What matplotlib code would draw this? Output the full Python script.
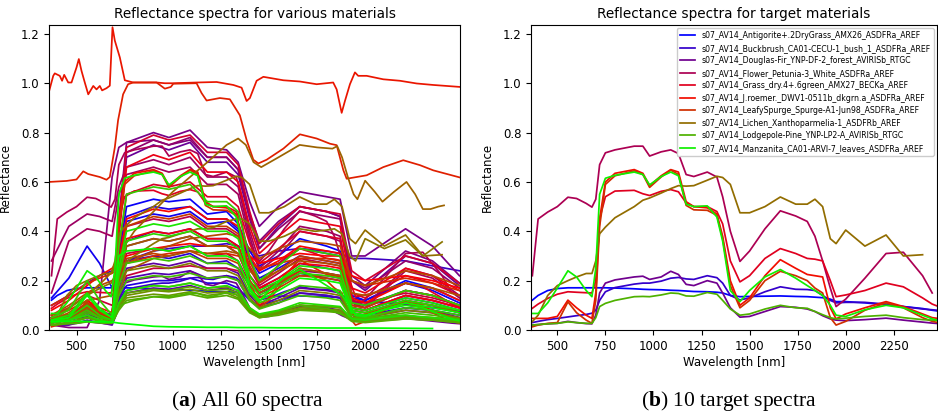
import numpy as np
import matplotlib
matplotlib.use("Agg")
import matplotlib.pyplot as plt

plt.rcParams['mathtext.fontset'] = 'custom'
plt.rcParams['mathtext.rm'] = 'Liberation Serif'
plt.rcParams['mathtext.bf'] = 'Liberation Serif:bold'

nan = np.nan

# ---------------- wavelength grids (nm) ----------------
GT = [370, 400, 450, 500, 555, 600, 650, 680, 700, 720, 750, 800, 900, 945, 980, 1040,
      1090, 1130, 1170, 1210, 1280, 1330, 1360, 1400, 1450, 1500, 1580, 1660, 1740, 1800,
      1840, 1880, 1920, 1950, 2000, 2100, 2210, 2300, 2400, 2450, 2500]
GC = [370, 460, 555, 620, 685, 720, 760, 900, 980, 1090, 1180, 1280, 1340, 1400, 1450,
      1550, 1660, 1800, 1870, 1930, 2000, 2210, 2350, 2490]

# ---------------- 10 target spectra (on GT) ----------------
TARGET_NAMES = [
    "s07_AV14_Antigorite+.2DryGrass_AMX26_ASDFRa_AREF",
    "s07_AV14_Buckbrush_CA01-CECU-1_bush_1_ASDFRa_AREF",
    "s07_AV14_Douglas-Fir_YNP-DF-2_forest_AVIRISb_RTGC",
    "s07_AV14_Flower_Petunia-3_White_ASDFRa_AREF",
    "s07_AV14_Grass_dry.4+.6green_AMX27_BECKa_AREF",
    "s07_AV14_J.roemer._DWV1-0511b_dkgrn.a_ASDFRa_AREF",
    "s07_AV14_LeafySpurge_Spurge-A1-Jun98_ASDFRa_AREF",
    "s07_AV14_Lichen_Xanthoparmelia-1_ASDFRb_AREF",
    "s07_AV14_Lodgepole-Pine_YNP-LP2-A_AVIRISb_RTGC",
    "s07_AV14_Manzanita_CA01-ARVI-7_leaves_ASDFRa_AREF",
]
ANTIGORITE = [.121, .14, .16, .168, .171, .171, .171, .171, .171, .171,
              .171, .17, .167, .165, .164, .163, .161, .16, .158, .156,
              .155, .153, .15, .14, .135, .136, .137, .138, .136, .135,
              .133, .131, .125, .115, .115, .11, .102, .095, .087, .08, .075]
BUCKBRUSH = [.03, .035, .042, .047, .053, .058, .063, .068, .08, .12,
             .155, .172, .186, .19, .19, .198, .21, .213, .207, .205,
             .22, .212, .19, .14, .122, .13, .155, .175, .165, .164,
             .16, .14, .12, .11, .112, .112, .105, .095, .085, .082, .078]
DOUGLAS_FIR = [.02, .022, .025, .027, .035, .03, .026, .025, .06, .15,
               .19, .203, .215, .218, .205, .215, .238, .225, .185, .18,
               .2, .19, .15, .09, .052, .055, .075, .095, .092, .085,
               .075, .058, .045, .04, .038, .042, .048, .04, .032, .028, .025]
PETUNIA = [.22, .45, .478, .50, .538, .533, .513, .498, .53, .67,
           .718, .73, .745, .745, .705, .722, .73, .715, .63, .622,
           .64, .62, .54, .40, .278, .32, .41, .483, .462, .44,
           .38, .28, .17, .095, .125, .21, .31, .315, .22, .15, nan]
GRASS = [.088, .105, .128, .145, .155, .153, .151, .15, .2, .45,
         .54, .563, .566, .552, .545, .562, .569, .56, .515, .50,
         .50, .48, .43, .28, .195, .22, .29, .33, .31, .29,
         .287, .28, .2, .135, .142, .16, .19, .175, .13, .105, .09]
JROEMER = [.047, .047, .047, .055, .121, .09, .06, .047, .15, .45,
           .60, .635, .65, .635, .585, .625, .65, .64, .52, .50,
           .495, .47, .38, .20, .10, .13, .22, .285, .25, .225,
           .22, .215, .09, .045, .065, .09, .115, .095, .065, .05, .045]
LEAFYSPURGE = [.013, .02, .027, .03, .114, .07, .04, .027, .12, .42,
               .59, .625, .645, .63, .578, .62, .648, .63, .505, .487,
               .485, .465, .37, .18, .09, .12, .2, .238, .22, .2,
               .17, .15, .05, .02, .035, .08, .11, .09, .05, .035, .027]
LICHEN = [.034, .06, .14, .18, .2, .215, .229, .229, .28, .39,
          .417, .455, .50, .526, .535, .555, .573, .585, .583, .585,
          .607, .623, .618, .59, .475, .475, .50, .539, .51, .51,
          .53, .50, .37, .35, .405, .34, .385, .30, .305, nan, nan]
LODGEPOLE = [.02, .022, .025, .027, .033, .03, .027, .027, .05, .095,
             .108, .12, .135, .136, .135, .142, .15, .148, .138, .137,
             .152, .145, .12, .085, .06, .065, .085, .10, .09, .088,
             .075, .062, .05, .045, .048, .055, .06, .05, .042, .04, .038]
MANZANITA = [.067, .067, .11, .17, .24, .215, .16, .135, .25, .55,
             .615, .627, .64, .63, .588, .622, .64, .625, .51, .50,
             .503, .458, .36, .16, .115, .16, .215, .245, .21, .18,
             .16, .14, .10, .06, .055, .082, .10, .09, .06, .045, .035]
TARGETS = [ANTIGORITE, BUCKBRUSH, DOUGLAS_FIR, PETUNIA, GRASS, JROEMER,
           LEAFYSPURGE, LICHEN, LODGEPOLE, MANZANITA]
TARGET_IDX = [0, 6, 13, 20, 26, 31, 35, 42, 50, 57]

# ---------------- bright / special spectra (own wavelengths) ----------------
S1_W = [358, 379, 387, 413, 425, 436, 457, 474, 500, 512, 526, 543, 561, 587, 604, 621, 633,
        656, 673, 687, 699, 725, 751, 795, 916, 959, 1003, 1124, 1228, 1315, 1358, 1384, 1401,
        1436, 1471, 1575, 1661, 1748, 1834, 1852, 1878, 1895, 1921, 1947, 1964, 2008, 2094,
        2181, 2268, 2354, 2493]
S1_R = [0.969, 1.03, 1.04, 1.03, 1.01, 1.034, 1.003, 1.003, 1.064, 1.098, 1.05, 1.003, 0.955,
        0.989, 0.975, 0.989, 0.971, 0.98, 0.99, 1.227, 1.173, 1.105, 1.012, 1.003, 1.003, 1.0,
        1.0, 1.003, 1.005, 0.993, 0.982, 0.928, 0.94, 1.01, 1.026, 1.012, 1.007, 0.996, 1.003,
        0.975, 0.88, 0.928, 0.996, 1.044, 1.03, 1.03, 1.016, 1.01, 0.999, 0.993, 0.985]
S2_W = [358, 448, 500, 535, 561, 621, 656, 673, 699, 716, 742, 768, 795, 916, 959, 990, 1003,
        1124, 1150, 1176, 1245, 1297, 1349, 1384, 1419, 1445, 1488, 1575, 1661, 1748, 1817,
        1852, 1887, 1904, 2008, 2094, 2198, 2285, 2354, 2493]
S2_R = [.60, .604, .61, .643, .632, .62, .609, .62, .74, .85, .955, .996, 1.003, 1.003, .978,
        .985, .998, 1.0, .96, .93, .94, .935, .87, .77, .69, .675, .69, .735, .793, .776, .755,
        .749, .647, .613, .627, .66, .688, .668, .647, .618]
B1_W = [370, 460, 555, 640, 690, 740, 800, 900, 1000, 1090, 1180, 1280, 1340, 1380, 1420,
        1460, 1550, 1660, 1750, 1830, 1855, 1880, 1910, 1940, 1960, 2000, 2050, 2090, 2150,
        2215, 2260, 2300, 2340, 2380, 2410]
B1_R = [.05, .09, .14, .20, .24, .33, .40, .48, .56, .62, .68, .75, .776, .75, .68, .66, .70,
        .75, .74, .735, .745, .70, .62, .55, .53, .605, .56, .52, .56, .60, .55, .49, .49, .50,
        .505]
B2_R = [.04, .05, .08, .11, .14, .16, .18, .19, .21, .25,
        .27, .30, .35, .37, .375, .39, .40, .41, .41, .415,
        .44, .45, .45, .43, .36, .36, .38, .41, .40, .405,
        .41, .39, .30, .28, .37, .33, .365, .30, .357, nan, nan]   # on GT
SPECIAL = {32: (S1_W, S1_R), 33: (S2_W, S2_R), 41: (B1_W, B1_R), 43: (GT, B2_R)}

# ---------------- remaining spectra of the 60 (on GC) ----------------
OTHERS = [
    [.04, .05, .09, .06, .05, .30, .50, .53, .52, .53, .47, .48, .43, .32, .26, .30, .37, .34, .32, .14, .12, .20, .17, .12],
    [.13, .21, .34, .27, .17, .30, .44, .47, .46, .48, .43, .44, .40, .29, .23, .27, .33, .31, .30, .13, .12, .19, .16, .11],
    [.03, .04, .07, .05, .04, .26, .46, .50, .49, .50, .45, .45, .41, .28, .21, .25, .30, .28, .27, .11, .10, .16, .14, .10],
    [.05, .06, .10, .07, .06, .13, .18, .20, .20, .21, .19, .19, .17, .12, .10, .12, .15, .14, .13, .07, .06, .09, .08, .06],
    [.04, .05, .08, .06, .05, .17, .28, .30, .29, .31, .27, .28, .25, .18, .15, .18, .23, .21, .20, .09, .08, .13, .11, .08],
    [.10, .14, .19, .22, .24, .26, .28, .32, .33, .34, .34, .35, .34, .32, .30, .32, .33, .32, .31, .29, .29, .28, .26, .24],
    [.03, .04, .08, .05, .04, .22, .36, .40, .39, .41, .37, .37, .34, .22, .17, .21, .27, .25, .24, .09, .08, .14, .12, .09],
    [.03, .04, .06, .05, .04, .12, .21, .23, .225, .24, .21, .22, .20, .12, .09, .11, .15, .14, .13, .06, .05, .08, .07, .05],
    [.02, .02, .04, .03, .02, .09, .15, .17, .165, .18, .16, .17, .15, .08, .055, .07, .10, .09, .08, .045, .04, .05, .04, .03],
    [.03, .04, .06, .05, .04, .15, .25, .27, .26, .28, .25, .25, .23, .14, .10, .13, .17, .16, .15, .06, .05, .09, .08, .05],
    [.04, .05, .10, .07, .05, .40, .70, .75, .73, .76, .68, .68, .63, .45, .33, .42, .50, .48, .46, .20, .16, .30, .27, .18],
    [.05, .06, .11, .08, .06, .45, .76, .80, .78, .81, .74, .73, .68, .52, .42, .50, .56, .54, .53, .30, .30, .41, .34, .22],
    [.02, .01, .01, .12, .62, .74, .76, .77, .75, .77, .70, .70, .65, .47, .36, .44, .50, .48, .46, .22, .18, .32, .28, .19],
    [.03, .04, .07, .05, .04, .20, .34, .37, .36, .38, .34, .34, .31, .20, .15, .19, .24, .23, .22, .08, .07, .12, .10, .07],
    [.04, .05, .10, .07, .05, .40, .72, .77, .75, .78, .70, .70, .65, .46, .33, .41, .48, .46, .45, .20, .17, .28, .25, .17],
    [.28, .42, .47, .46, .44, .58, .66, .69, .67, .70, .62, .62, .58, .38, .25, .32, .42, .40, .38, .12, .10, .25, .22, .14],
    [.15, .36, .41, .40, .38, .55, .63, .66, .64, .66, .59, .59, .55, .36, .24, .30, .40, .38, .36, .11, .09, .24, .21, .13],
    [.03, .04, .08, .05, .04, .25, .42, .45, .44, .46, .41, .41, .38, .25, .18, .23, .29, .27, .26, .10, .09, .16, .14, .10],
    [.04, .06, .09, .07, .05, .19, .31, .33, .32, .34, .30, .31, .28, .19, .15, .19, .25, .23, .22, .09, .08, .14, .12, .09],
    [.06, .09, .14, .12, .10, .16, .22, .25, .25, .26, .25, .25, .24, .19, .17, .19, .22, .22, .21, .12, .11, .15, .13, .10],
    [.05, .06, .10, .07, .05, .42, .74, .79, .77, .79, .72, .72, .67, .48, .35, .43, .50, .48, .47, .24, .20, .30, .27, .19],
    [.04, .05, .09, .06, .05, .32, .55, .59, .58, .60, .54, .54, .50, .35, .27, .33, .40, .38, .37, .15, .13, .22, .19, .14],
    [.05, .06, .10, .07, .05, .38, .66, .71, .69, .72, .64, .64, .60, .42, .31, .38, .45, .43, .42, .17, .15, .25, .22, .16],
    [.04, .05, .09, .06, .05, .22, .37, .40, .39, .41, .37, .37, .34, .22, .17, .21, .27, .26, .25, .09, .08, .14, .12, .09],
    [.08, .12, .18, .22, .25, .28, .30, .33, .34, .35, .34, .34, .33, .30, .27, .29, .31, .30, .30, .22, .20, .22, .20, .17],
    [.06, .08, .12, .09, .07, .28, .45, .49, .48, .50, .45, .45, .42, .30, .24, .28, .34, .32, .31, .13, .11, .19, .17, .12],
    [.10, .14, .19, .21, .23, .25, .27, .30, .31, .32, .31, .31, .30, .27, .25, .27, .29, .29, .28, .20, .18, .21, .19, .16],
    [.03, .05, .10, .06, .04, .24, .42, .46, .45, .47, .42, .42, .39, .26, .19, .24, .30, .28, .27, .10, .09, .16, .14, .10],
    [.04, .06, .11, .07, .05, .18, .29, .31, .30, .32, .29, .29, .27, .17, .13, .17, .22, .21, .20, .07, .06, .11, .10, .07],
    [.06, .10, .15, .18, .20, .24, .27, .32, .34, .37, .38, .39, .38, .33, .29, .33, .36, .35, .34, .20, .18, .24, .22, .18],
    [.04, .07, .12, .13, .14, .19, .24, .29, .30, .32, .31, .32, .31, .24, .20, .24, .28, .27, .26, .15, .14, .19, .17, .14],
    [.03, .04, .09, .05, .04, .20, .34, .37, .36, .38, .34, .34, .31, .20, .15, .19, .25, .23, .22, .08, .07, .12, .10, .07],
    [.03, .04, .08, .05, .04, .15, .24, .26, .25, .27, .24, .24, .22, .13, .09, .12, .16, .15, .14, .05, .05, .08, .07, .05],
    [.02, .03, .05, .04, .03, .10, .16, .18, .175, .19, .17, .175, .16, .09, .06, .075, .10, .095, .09, .045, .04, .055, .05, .04],
    [.02, .03, .05, .04, .03, .09, .14, .16, .155, .165, .15, .155, .14, .08, .055, .07, .09, .085, .08, .04, .035, .05, .045, .035],
    [.02, .03, .05, .04, .03, .09, .13, .145, .14, .155, .14, .15, .13, .075, .05, .065, .085, .08, .075, .04, .035, .045, .04, .03],
    [.03, .04, .06, .04, .03, .10, .15, .165, .16, .175, .16, .165, .15, .085, .06, .075, .10, .095, .09, .045, .04, .055, .05, .04],
    [.02, .03, .05, .035, .03, .08, .12, .135, .13, .145, .13, .14, .125, .07, .05, .06, .08, .075, .07, .035, .03, .045, .04, .03],
    [.03, .04, .07, .05, .04, .14, .20, .22, .215, .23, .21, .215, .20, .12, .085, .11, .14, .13, .12, .05, .045, .07, .06, .045],
    [.03, .04, .08, .05, .04, .18, .27, .29, .28, .30, .27, .27, .25, .15, .11, .14, .18, .17, .16, .06, .05, .09, .08, .06],
    [.05, .08, .20, .12, .06, .34, .55, .58, .57, .59, .52, .52, .48, .29, .20, .26, .33, .31, .30, .11, .10, .16, .14, .10],
    [.03, .05, .10, .06, .04, .22, .36, .39, .38, .40, .36, .36, .33, .19, .14, .18, .23, .22, .21, .08, .07, .12, .10, .08],
    [.03, .04, .06, .04, .03, .11, .16, .18, .175, .19, .17, .18, .16, .09, .065, .08, .11, .10, .095, .045, .04, .06, .05, .04],
    [.04, .06, .15, .09, .05, .25, .40, .43, .42, .44, .40, .40, .37, .22, .16, .20, .26, .25, .24, .09, .08, .13, .11, .08],
    [.04, .05, .14, .08, .05, .30, .32, .33, .32, .34, .30, .30, .28, .17, .12, .16, .21, .20, .19, .07, .06, .11, .09, .07],
    [.035, .035, .035, .033, .032, .028, .025, .015, .013, .012, .011, .011, .01, .01, .01, .009, .009, .008, .008, .008, .008, .007, .006, nan],
]

N_SPECTRA = 60
YTICKS = [0.0, 0.2, 0.4, 0.6, 0.8, 1.0, 1.2]
XTICKS = [500, 750, 1000, 1250, 1500, 1750, 2000, 2250]

# ---------------- figure ----------------
W_PX, H_PX = 938, 415
fig = plt.figure(figsize=(W_PX / 100, H_PX / 100), dpi=100)
axL = fig.add_axes([49 / W_PX, 85 / H_PX, 411 / W_PX, 305 / H_PX])
axR = fig.add_axes([531 / W_PX, 85 / H_PX, 406 / W_PX, 305 / H_PX])

cmap = plt.get_cmap('brg')
colors = [cmap(i / (N_SPECTRA - 1)) for i in range(N_SPECTRA)]
LW = 1.25

# panel (a): all 60 spectra
others_iter = iter(OTHERS)
for i in range(N_SPECTRA):
    if i in TARGET_IDX:
        w, r = GT, TARGETS[TARGET_IDX.index(i)]
    elif i in SPECIAL:
        w, r = SPECIAL[i]
    else:
        w, r = GC, next(others_iter)
    axL.plot(w, r, color=colors[i], lw=LW)

# panel (b): 10 targets
for name, r, idx in zip(TARGET_NAMES, TARGETS, TARGET_IDX):
    axR.plot(GT, r, color=colors[idx], lw=LW, label=name)

for ax, title, xl in [(axL, "Reflectance spectra for various materials", (357, 2493)),
                      (axR, "Reflectance spectra for target materials", (363, 2475))]:
    ax.set_xlim(*xl)
    ax.set_ylim(0, 1.236)
    ax.set_yticks(YTICKS)
    ax.set_xticks(XTICKS)
    ax.tick_params(labelsize=8.5, length=3.5, width=0.8)
    ax.set_title(title, fontsize=9.8, pad=5)
    ax.set_xlabel("Wavelength [nm]", fontsize=8.5, labelpad=2)
    ax.set_ylabel("Reflectance", fontsize=8.5, labelpad=6)
    for s in ax.spines.values():
        s.set_linewidth(0.8)

axR.legend(loc='upper right', fontsize=5.6, handlelength=2.0, labelspacing=0.45,
           borderaxespad=0.4, framealpha=1.0, edgecolor='0.8')

fig.text(247 / W_PX, 14 / H_PX, r"($\mathbf{a}$) All 60 spectra", ha='center', va='center',
         fontsize=15.5, family='Liberation Serif')
fig.text(729 / W_PX, 14 / H_PX, r"($\mathbf{b}$) 10 target spectra", ha='center', va='center',
         fontsize=15.5, family='Liberation Serif')

fig.savefig("out.png", dpi=100)
